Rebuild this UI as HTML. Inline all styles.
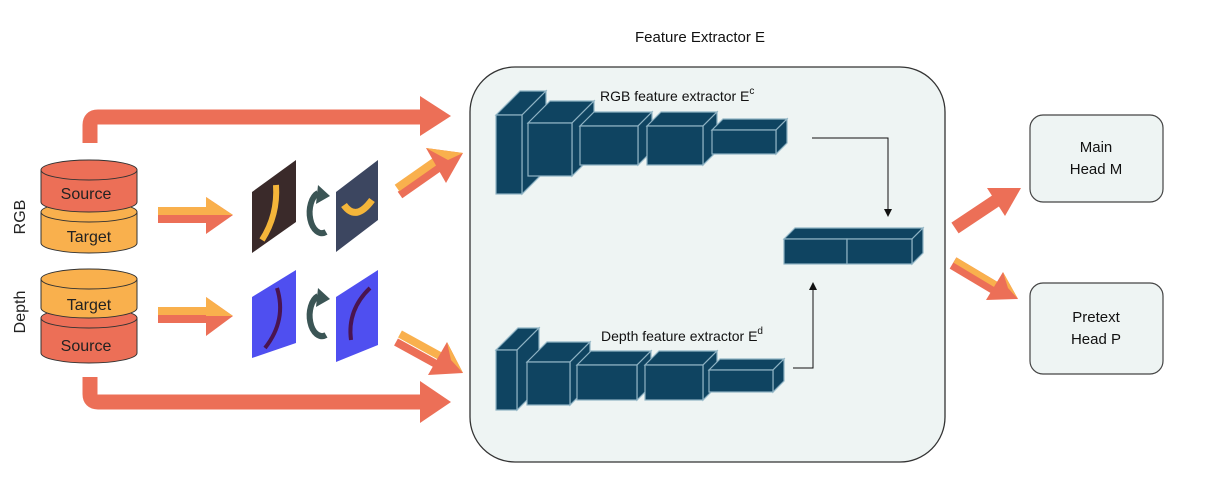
<!DOCTYPE html>
<html><head><meta charset="utf-8"><style>
html,body{margin:0;padding:0;background:#fff;}
svg{display:block;font-family:"Liberation Sans",sans-serif;}
.b{fill:#0f4461;stroke:#8fb3c4;stroke-width:1.2;}
</style></head><body>
<svg width="1212" height="483" viewBox="0 0 1212 483" xmlns="http://www.w3.org/2000/svg">
<defs>
<marker id="ah" markerWidth="8" markerHeight="8" refX="7" refY="4" orient="auto" markerUnits="userSpaceOnUse"><path d="M0,0 L8,4 L0,8 z" fill="#111"/></marker>
</defs>
<text x="700" y="42" font-size="15" text-anchor="middle" fill="#111">Feature Extractor E</text>
<rect x="470" y="67" width="475" height="395" rx="45" fill="#eef4f3" stroke="#333" stroke-width="1.3"/>

<path d="M90,143 V125 Q90,117 98,117 H422" fill="none" stroke="#ec6f57" stroke-width="15"/>
<polygon points="420,96 451,116 420,136" fill="#ec6f57"/>
<path d="M90,377 V394 Q90,402 98,402 H422" fill="none" stroke="#ec6f57" stroke-width="15"/>
<polygon points="420,381 451,402 420,423" fill="#ec6f57"/>

<g stroke="#333" stroke-width="1">
<path d="M41,212 V243 A48,10 0 0 0 137,243 V212 Z" fill="#f9b04d"/>
<ellipse cx="89" cy="212" rx="48" ry="10" fill="#f9b04d"/>
<path d="M41,170 V202 A48,10 0 0 0 137,202 V170 Z" fill="#ec6f57"/>
<ellipse cx="89" cy="170" rx="48" ry="10" fill="#ec6f57"/>
<path d="M41,318 V353 A48,10 0 0 0 137,353 V318 Z" fill="#ec6f57"/>
<ellipse cx="89" cy="318" rx="48" ry="10" fill="#ec6f57"/>
<path d="M41,279 V308 A48,10 0 0 0 137,308 V279 Z" fill="#f9b04d"/>
<ellipse cx="89" cy="279" rx="48" ry="10" fill="#f9b04d"/>
</g>
<g font-size="16" fill="#222" text-anchor="middle">
<text x="86" y="199">Source</text><text x="89" y="242">Target</text>
<text x="89" y="310">Target</text><text x="86" y="351">Source</text>
</g>
<text transform="translate(25,217) rotate(-90)" font-size="16" text-anchor="middle" fill="#222">RGB</text>
<text transform="translate(25,312) rotate(-90)" font-size="16" text-anchor="middle" fill="#222">Depth</text>

<rect x="158" y="207" width="50" height="8" fill="#f9b04d"/><rect x="158" y="215" width="50" height="8" fill="#ec6f57"/>
<polygon points="206,197 233,215 206,234" fill="#ec6f57"/><polygon points="206,197 233,215 206,215" fill="#f9b04d"/>
<rect x="158" y="307" width="50" height="8" fill="#f9b04d"/><rect x="158" y="315" width="50" height="8" fill="#ec6f57"/>
<polygon points="206,297 233,316 206,336" fill="#ec6f57"/><polygon points="206,297 233,316 206,316" fill="#f9b04d"/>

<polygon points="252,192 296,160 296,222 252,253" fill="#3a2a2a"/>
<path d="M262,240 Q278,215 276,185" stroke="#f4b53a" stroke-width="6" fill="none"/>
<polygon points="336,192 378,160 378,220 336,252" fill="#3c4660"/>
<path d="M344,205 Q356,222 372,200" stroke="#f4b53a" stroke-width="7" fill="none"/>
<polygon points="252,297 296,270 296,343 252,358" fill="#4f4ff0"/>
<path d="M265,348 Q287,320 277,288" stroke="#4a1450" stroke-width="4" fill="none"/>
<polygon points="336,297 378,270 378,345 336,362" fill="#4f4ff0"/>
<path d="M351,340 Q347,310 370,288" stroke="#4a1450" stroke-width="4" fill="none"/>
<g fill="none" stroke="#3b5555" stroke-width="6">
<path d="M318,193 A12,20 0 1 0 326,232"/><path d="M318,296 A12,20 0 1 0 326,335"/>
</g>
<polygon points="318,185 330,196 316,204" fill="#3b5555"/><polygon points="318,288 330,299 316,307" fill="#3b5555"/>

<line x1="400" y1="195" x2="440" y2="167" stroke="#ec6f57" stroke-width="8"/>
<line x1="397" y1="188" x2="437" y2="160" stroke="#f9b04d" stroke-width="8"/>
<polygon points="426,148 463,153 446,183" fill="#ec6f57"/>
<polygon points="426,148 463,153 448,160" fill="#f9b04d"/>
<line x1="400" y1="334" x2="440" y2="356" stroke="#f9b04d" stroke-width="8"/>
<line x1="396" y1="342" x2="436" y2="364" stroke="#ec6f57" stroke-width="8"/>
<polygon points="447,342 463,373 428,375" fill="#ec6f57"/>
<polygon points="447,342 463,373 451,360" fill="#f9b04d"/>
<line x1="955" y1="228" x2="1000" y2="198" stroke="#ec6f57" stroke-width="13"/>
<polygon points="987,188 1021,188 1005,216" fill="#ec6f57"/>
<line x1="953" y1="263" x2="1000" y2="291" stroke="#ec6f57" stroke-width="13"/>
<line x1="955" y1="260" x2="1000" y2="287" stroke="#f9b04d" stroke-width="6"/>
<polygon points="1003,272 1018,299 986,300" fill="#ec6f57"/>
<polygon points="1003,272 1018,299 1008,288" fill="#f9b04d"/>

<g class="b">
<polygon points="496,115 520,91 546,91 522,115"/><polygon points="522,115 546,91 546,170 522,194"/><rect x="496" y="115" width="26" height="79"/>
<polygon points="528,123 550,101 594,101 572,123"/><polygon points="572,123 594,101 594,154 572,176"/><rect x="528" y="123" width="44" height="53"/>
<polygon points="580,126 594,112 652,112 638,126"/><polygon points="638,126 652,112 652,151 638,165"/><rect x="580" y="126" width="58" height="39"/>
<polygon points="647,126 661,112 717,112 703,126"/><polygon points="703,126 717,112 717,151 703,165"/><rect x="647" y="126" width="56" height="39"/>
<polygon points="712,130 723,119 787,119 776,130"/><polygon points="776,130 787,119 787,143 776,154"/><rect x="712" y="130" width="64" height="24"/>

<polygon points="496,350 518,328 539,328 517,350"/><polygon points="517,350 539,328 539,388 517,410"/><rect x="496" y="350" width="21" height="60"/>
<polygon points="527,362 547,342 590,342 570,362"/><polygon points="570,362 590,342 590,385 570,405"/><rect x="527" y="362" width="43" height="43"/>
<polygon points="577,365 591,351 651,351 637,365"/><polygon points="637,365 651,351 651,386 637,400"/><rect x="577" y="365" width="60" height="35"/>
<polygon points="645,365 659,351 717,351 703,365"/><polygon points="703,365 717,351 717,386 703,400"/><rect x="645" y="365" width="58" height="35"/>
<polygon points="709,370 720,359 784,359 773,370"/><polygon points="773,370 784,359 784,381 773,392"/><rect x="709" y="370" width="64" height="22"/>

<polygon points="784,239 795,228 923,228 912,239"/><polygon points="912,239 923,228 923,253 912,264"/><rect x="784" y="239" width="63" height="25"/><rect x="847" y="239" width="65" height="25"/>
</g>
<path d="M812,138 H888 V216" fill="none" stroke="#111" stroke-width="1" marker-end="url(#ah)"/>
<path d="M793,368 H813 V283" fill="none" stroke="#111" stroke-width="1" marker-end="url(#ah)"/>
<text x="600" y="101" font-size="14" fill="#111">RGB feature extractor E<tspan font-size="10" dy="-7">c</tspan></text>
<text x="601" y="341" font-size="14" fill="#111">Depth feature extractor E<tspan font-size="10" dy="-7">d</tspan></text>

<rect x="1030" y="115" width="133" height="87" rx="13" fill="#eef4f3" stroke="#444" stroke-width="1.2"/>
<rect x="1030" y="283" width="133" height="91" rx="13" fill="#eef4f3" stroke="#444" stroke-width="1.2"/>
<g font-size="15" fill="#111" text-anchor="middle">
<text x="1096" y="152">Main</text><text x="1096" y="174">Head M</text>
<text x="1096" y="322">Pretext</text><text x="1096" y="344">Head P</text>
</g>
</svg>
</body></html>
